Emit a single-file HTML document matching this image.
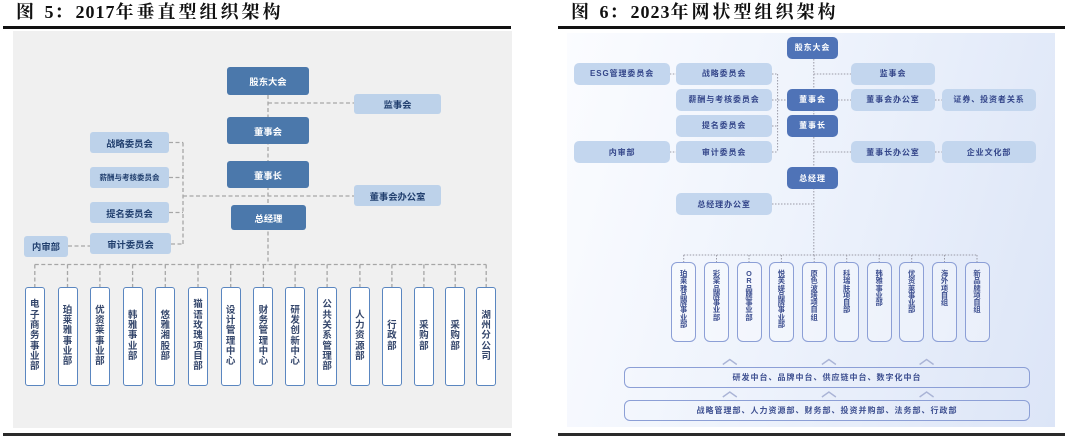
<!DOCTYPE html>
<html><head><meta charset="utf-8">
<style>
*{margin:0;padding:0}
body{width:1080px;height:442px;background:#fff;position:relative;overflow:hidden;font-family:"Liberation Sans","Noto Sans CJK SC",sans-serif}
.abs{position:absolute}
.title{position:absolute;top:3px;font-family:"Liberation Serif","Noto Serif CJK SC",serif;font-weight:bold;font-size:18px;line-height:18px;letter-spacing:3px;color:#111;white-space:nowrap}
.title .d{letter-spacing:1px}
.rule{position:absolute;background:#111}
svg{position:absolute;left:0;top:0;z-index:1}
.lb{position:absolute;box-sizing:border-box;display:flex;align-items:center;justify-content:center;font-weight:bold;font-size:9.3px;border-radius:3px;z-index:2;white-space:nowrap}
.dk{background:#4b78ab;color:#fff}
.lt{background:#bdd2ea;color:#213f6e}
.lv{position:absolute;box-sizing:border-box;top:287px;width:20px;height:99px;background:#fff;border:1.5px solid #5a86c0;border-radius:3px;z-index:2;display:flex;align-items:center;justify-content:center;text-align:center;font-weight:bold;font-size:9.5px;line-height:10.3px;color:#34466b}
.rb{position:absolute;box-sizing:border-box;display:flex;align-items:center;justify-content:center;font-weight:bold;font-size:8px;letter-spacing:0.9px;border-radius:5px;z-index:2;white-space:nowrap}
.rd{background:#4f73b7;color:#fff}
.rl{background:#c3d6ee;color:#34468a}
.rv{position:absolute;box-sizing:border-box;top:262px;width:25px;height:80px;border:1.3px solid #8c9fd6;border-radius:6px;background:rgba(255,255,255,0.3);z-index:2;text-align:center;padding-top:7px;font-weight:bold;font-size:7.3px;line-height:7.3px;color:#3d4f90}
.wide{position:absolute;box-sizing:border-box;left:624px;width:406px;height:21px;border:1.3px solid #8c9fd6;border-radius:6px;z-index:2;display:flex;align-items:center;justify-content:center;font-weight:bold;font-size:8px;letter-spacing:1px;color:#3d4f90;white-space:nowrap}
</style></head><body>

<!-- titles -->
<div class="title" style="left:16px">图 <span class="d">5</span>：<span class="d">2017</span>年垂直型组织架构</div>
<div class="title" style="left:571px">图 <span class="d">6</span>：<span class="d">2023</span>年网状型组织架构</div>
<div class="rule" style="left:3px;top:26px;width:508px;height:2.5px"></div>
<div class="rule" style="left:558px;top:26px;width:507px;height:2.5px"></div>
<div class="rule" style="left:3px;top:433px;width:508px;height:3px;background:#2a2a2a"></div>
<div class="rule" style="left:558px;top:433px;width:507px;height:3px;background:#2a2a2a"></div>

<!-- panels -->
<div class="abs" style="left:13px;top:31px;width:499px;height:397px;background:#f0f0f0"></div>
<div class="abs" style="left:567px;top:33px;width:488px;height:394px;background:linear-gradient(105deg,#fbfcff 0%,#eef3fc 45%,#dce5f7 100%)"></div>

<svg width="1080" height="442" viewBox="0 0 1080 442">
<g fill="none" stroke="#a6a6a6" stroke-width="1.3" stroke-dasharray="4 2.5">
<path d="M268 95V264.5"/>
<path d="M268 103H354"/>
<path d="M183 196H354"/>
<path d="M183 142.5V244"/>
<path d="M169 142.5H183M169 177.5H183M169 212.5H183M171 244H183"/>
<path d="M68 246H90"/>
<path d="M34.8 264.5H486.2"/>
<path d="M34.8 264.5V287M67.5 264.5V287M99.9 264.5V287M132.6 264.5V287M165.3 264.5V287M198 264.5V287M230.7 264.5V287M263.4 264.5V287M295.1 264.5V287M327.1 264.5V287M359.9 264.5V287M391.9 264.5V287M423.9 264.5V287M455.2 264.5V287M486.2 264.5V287"/>
</g>
<g fill="none" stroke="#9a9aa6" stroke-width="1" stroke-dasharray="1.5 1.5">
<path d="M813.8 59V255"/>
<path d="M813.8 74H851"/>
<path d="M669.8 74H676.2"/>
<path d="M777.6 74V152"/>
<path d="M772 74H777.6M772 100H787M772 126H777.6M772 152H777.6"/>
<path d="M838 100H851"/>
<path d="M935 100H941.7"/>
<path d="M669.8 152H676.2"/>
<path d="M813.8 152H851"/>
<path d="M935 152H941.7"/>
<path d="M772 204H813.8"/>
<path d="M683.7 255H977"/>
<path d="M683.7 255V262M716.5 255V262M749 255V262M781.4 255V262M814.2 255V262M846.7 255V262M879.2 255V262M911.7 255V262M944.5 255V262M977 255V262"/>
</g>
<g fill="none" stroke="#aab4d6" stroke-width="1.4">
<path d="M722.8 364.5L729.8 359.5L736.8 364.5M821.9 364.5L828.9 359.5L835.9 364.5M919.6 364.5L926.6 359.5L933.6 364.5"/>
<path d="M722.8 397L729.8 392L736.8 397M821.9 397L828.9 392L835.9 397M919.6 397L926.6 392L933.6 397"/>
</g>
</svg>

<!-- LEFT chart -->
<div class="lb dk" style="left:227px;top:67px;width:82px;height:28px">股东大会</div>
<div class="lb dk" style="left:227px;top:117px;width:82px;height:27px">董事会</div>
<div class="lb dk" style="left:227px;top:161px;width:82px;height:27px">董事长</div>
<div class="lb dk" style="left:231px;top:205px;width:75px;height:25px">总经理</div>
<div class="lb lt" style="left:354px;top:94px;width:87px;height:20px">监事会</div>
<div class="lb lt" style="left:354px;top:185px;width:87px;height:21px">董事会办公室</div>
<div class="lb lt" style="left:90px;top:132px;width:79px;height:21px">战略委员会</div>
<div class="lb lt" style="left:90px;top:167px;width:79px;height:21px;font-size:7.5px">薪酬与考核委员会</div>
<div class="lb lt" style="left:90px;top:202px;width:79px;height:21px">提名委员会</div>
<div class="lb lt" style="left:90px;top:233px;width:81px;height:21px">审计委员会</div>
<div class="lb lt" style="left:24px;top:236px;width:44px;height:20.5px">内审部</div>

<div class="lv" style="left:24.8px">电<br>子<br>商<br>务<br>事<br>业<br>部</div>
<div class="lv" style="left:57.5px">珀<br>莱<br>雅<br>事<br>业<br>部</div>
<div class="lv" style="left:89.9px">优<br>资<br>莱<br>事<br>业<br>部</div>
<div class="lv" style="left:122.6px">韩<br>雅<br>事<br>业<br>部</div>
<div class="lv" style="left:155.3px">悠<br>雅<br>湘<br>股<br>部</div>
<div class="lv" style="left:188px">猫<br>语<br>玫<br>瑰<br>项<br>目<br>部</div>
<div class="lv" style="left:220.7px">设<br>计<br>管<br>理<br>中<br>心</div>
<div class="lv" style="left:253.4px">财<br>务<br>管<br>理<br>中<br>心</div>
<div class="lv" style="left:285.1px">研<br>发<br>创<br>新<br>中<br>心</div>
<div class="lv" style="left:317.1px">公<br>共<br>关<br>系<br>管<br>理<br>部</div>
<div class="lv" style="left:349.9px">人<br>力<br>资<br>源<br>部</div>
<div class="lv" style="left:381.9px">行<br>政<br>部</div>
<div class="lv" style="left:413.9px">采<br>购<br>部</div>
<div class="lv" style="left:445.2px">采<br>购<br>部</div>
<div class="lv" style="left:476.2px">湖<br>州<br>分<br>公<br>司</div>

<!-- RIGHT chart -->
<div class="rb rd" style="left:787px;top:36.7px;width:51px;height:22.6px">股东大会</div>
<div class="rb rl" style="left:574.4px;top:62.7px;width:95.4px;height:22.6px">ESG管理委员会</div>
<div class="rb rl" style="left:676.2px;top:62.7px;width:95.8px;height:22.6px">战略委员会</div>
<div class="rb rl" style="left:851px;top:62.7px;width:84px;height:22.6px">监事会</div>
<div class="rb rl" style="left:676.2px;top:88.7px;width:95.8px;height:22.6px">薪酬与考核委员会</div>
<div class="rb rd" style="left:787px;top:88.7px;width:51px;height:22.6px">董事会</div>
<div class="rb rl" style="left:851px;top:88.7px;width:84px;height:22.6px">董事会办公室</div>
<div class="rb rl" style="left:941.7px;top:88.7px;width:94.7px;height:22.6px">证券、投资者关系</div>
<div class="rb rl" style="left:676.2px;top:114.7px;width:95.8px;height:22.6px">提名委员会</div>
<div class="rb rd" style="left:787px;top:114.7px;width:51px;height:22.6px">董事长</div>
<div class="rb rl" style="left:574.4px;top:141px;width:95.4px;height:22.3px">内审部</div>
<div class="rb rl" style="left:676.2px;top:141px;width:95.8px;height:22.3px">审计委员会</div>
<div class="rb rl" style="left:851px;top:141px;width:84px;height:22.3px">董事长办公室</div>
<div class="rb rl" style="left:941.7px;top:141px;width:94.7px;height:22.3px">企业文化部</div>
<div class="rb rd" style="left:787px;top:167.3px;width:51px;height:22px">总经理</div>
<div class="rb rl" style="left:676.2px;top:193.3px;width:95.8px;height:22px">总经理办公室</div>

<div class="rv" style="left:671.2px">珀<br>莱<br>雅<br>品<br>牌<br>事<br>业<br>部</div>
<div class="rv" style="left:704px">彩<br>棠<br>品<br>牌<br>事<br>业<br>部</div>
<div class="rv" style="left:736.5px">O<br>R<br>品<br>牌<br>事<br>业<br>部</div>
<div class="rv" style="left:768.9px">悦<br>芙<br>媞<br>品<br>牌<br>事<br>业<br>部</div>
<div class="rv" style="left:801.7px">原<br>色<br>波<br>塔<br>项<br>目<br>组</div>
<div class="rv" style="left:834.2px">科<br>瑞<br>肤<br>项<br>目<br>部</div>
<div class="rv" style="left:866.7px">韩<br>雅<br>事<br>业<br>部</div>
<div class="rv" style="left:899.2px">优<br>资<br>莱<br>事<br>业<br>部</div>
<div class="rv" style="left:932px">海<br>外<br>项<br>目<br>组</div>
<div class="rv" style="left:964.5px">新<br>品<br>牌<br>项<br>目<br>组</div>

<div class="wide" style="top:367.3px">研发中台、品牌中台、供应链中台、数字化中台</div>
<div class="wide" style="top:400px">战略管理部、人力资源部、财务部、投资并购部、法务部、行政部</div>

</body></html>
